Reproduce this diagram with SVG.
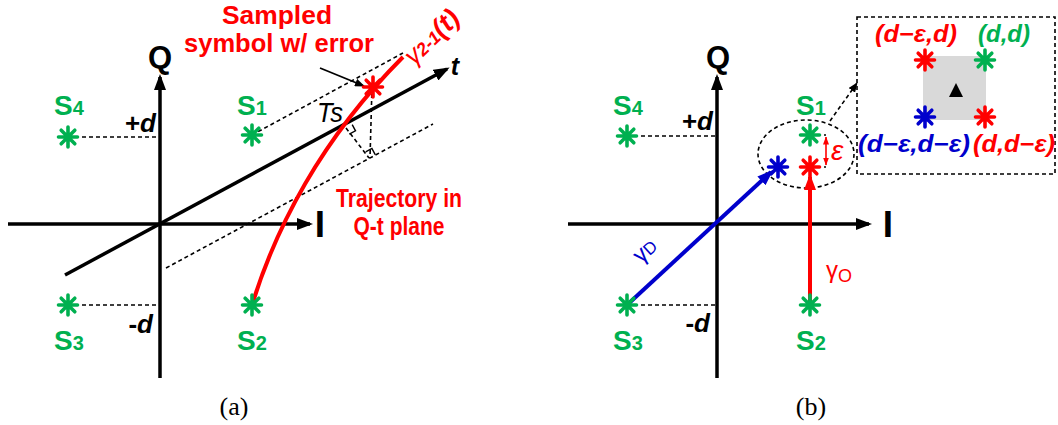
<svg xmlns="http://www.w3.org/2000/svg" width="1058" height="425" viewBox="0 0 1058 425">
<style>
.ax{stroke:#000;stroke-width:3.5;fill:none}
.dash{stroke:#000;stroke-width:1.6;stroke-dasharray:4 3;fill:none}
.lbl{font-family:"Liberation Sans",Arial,sans-serif;font-weight:bold}
.nrm{font-family:"Liberation Sans",Arial,sans-serif;font-weight:normal}
.g{fill:#00b050}.r{fill:#ff0000}.b{fill:#0000cc}.k{fill:#000}
.cap{font-family:"Liberation Serif","Times New Roman",serif;font-size:26px;fill:#000}
</style>
<defs>
<marker id="ak" viewBox="0 0 16 12" refX="13" refY="6" markerWidth="16" markerHeight="12" markerUnits="userSpaceOnUse" orient="auto"><path d="M0,0L16,6L0,12z" fill="#000"/></marker>
<marker id="ar" viewBox="0 0 16 12" refX="13" refY="6" markerWidth="16" markerHeight="12" markerUnits="userSpaceOnUse" orient="auto"><path d="M0,0L16,6L0,12z" fill="#ff0000"/></marker>
<marker id="ab" viewBox="0 0 16 12" refX="13" refY="6" markerWidth="16" markerHeight="12" markerUnits="userSpaceOnUse" orient="auto"><path d="M0,0L16,6L0,12z" fill="#0000cc"/></marker>
<marker id="aks" viewBox="0 0 10 8" refX="9" refY="4" markerWidth="10" markerHeight="8" markerUnits="userSpaceOnUse" orient="auto"><path d="M0,0L10,4L0,8z" fill="#000"/></marker>
<marker id="ars" viewBox="0 0 8 6" refX="7.5" refY="3" markerWidth="8" markerHeight="6" markerUnits="userSpaceOnUse" orient="auto-start-reverse"><path d="M0,0L8,3L0,6z" fill="#ff0000"/></marker>
<g id="star"><path d="M-9.5,0H9.5M0,-10V10M-6.8,-6.8L6.8,6.8M-6.8,6.8L6.8,-6.8" stroke="currentColor" stroke-width="3.6" stroke-linecap="round"/></g>
</defs>

<!-- ===== Panel (a) ===== -->
<g id="a-axes">
<line class="ax" x1="160" y1="378" x2="160" y2="77" marker-end="url(#ak)"/>
<line class="ax" x1="8" y1="224" x2="310" y2="224" marker-end="url(#ak)"/>
<line class="ax" x1="65" y1="275" x2="447" y2="69" marker-end="url(#ak)"/>
<text class="lbl k" x="160" y="68" font-size="31" text-anchor="middle">Q</text>
<text class="lbl k" x="320" y="237" font-size="37" text-anchor="middle">I</text>
<text class="lbl k" x="455" y="75" font-size="25" font-style="italic" text-anchor="middle">t</text>
</g>
<g id="a-connectors">
<line class="dash" x1="68" y1="137" x2="160" y2="137"/>
<line class="dash" x1="68" y1="305" x2="160" y2="305"/>
<line class="dash" x1="252" y1="135" x2="403" y2="53"/>
<line class="dash" x1="166" y1="268" x2="433" y2="124"/>
<line class="dash" x1="372" y1="87" x2="370" y2="158"/>
<line class="dash" x1="346" y1="128" x2="369" y2="158"/>
<path d="M352.2,124.7L355.5,130.8L349.3,134.2" stroke="#000" stroke-width="1.4" fill="none"/>
<path d="M375.2,154.7L371.9,148.5L365.7,151.8" stroke="#000" stroke-width="1.4" fill="none"/>
<line x1="320" y1="68" x2="364" y2="86" stroke="#000" stroke-width="1.8" marker-end="url(#aks)"/>
<path d="M252,305C275,230 320,140 403,57" stroke="#ff0000" stroke-width="4" fill="none"/>
</g>
<g id="a-S4"><use href="#star" x="68" y="137" color="#00b050"/><text class="lbl g" x="69" y="115" font-size="28" text-anchor="middle">S<tspan font-size="20">4</tspan></text></g>
<g id="a-S1"><use href="#star" x="252" y="135" color="#00b050"/><text class="lbl g" x="252" y="115" font-size="28" text-anchor="middle">S<tspan font-size="20">1</tspan></text></g>
<g id="a-S3"><use href="#star" x="68" y="305" color="#00b050"/><text class="lbl g" x="69" y="350" font-size="28" text-anchor="middle">S<tspan font-size="20">3</tspan></text></g>
<g id="a-S2"><use href="#star" x="252" y="305" color="#00b050"/><text class="lbl g" x="252" y="350" font-size="28" text-anchor="middle">S<tspan font-size="20">2</tspan></text></g>
<g id="a-sample"><use href="#star" x="373" y="87" color="#ff0000"/></g>
<g id="a-labels">
<text class="lbl k" x="156" y="132" font-size="26" text-anchor="end">+<tspan font-style="italic">d</tspan></text>
<text class="lbl k" x="153" y="333" font-size="26" text-anchor="end">-<tspan font-style="italic">d</tspan></text>
<text class="nrm k" x="317" y="122" font-size="28" font-style="italic" textLength="26" lengthAdjust="spacingAndGlyphs">Ts</text>
<text class="lbl r" x="277" y="24" font-size="25" text-anchor="middle" textLength="110" lengthAdjust="spacingAndGlyphs">Sampled</text>
<text class="lbl r" x="279" y="52" font-size="25" text-anchor="middle" textLength="190" lengthAdjust="spacingAndGlyphs">symbol w/ error</text>
<text class="lbl r" x="399" y="207" font-size="25" text-anchor="middle" textLength="126" lengthAdjust="spacingAndGlyphs">Trajectory in</text>
<text class="lbl r" x="399" y="235" font-size="25" text-anchor="middle" textLength="91" lengthAdjust="spacingAndGlyphs">Q-t plane</text>
<text class="nrm r" transform="translate(414,66) rotate(-44)" font-size="26" font-style="italic">γ<tspan class="lbl" font-size="18">2-1</tspan><tspan class="lbl" font-size="27">(t)</tspan></text>
<text class="cap" x="234" y="415" text-anchor="middle">(a)</text>
</g>

<!-- ===== Panel (b) ===== -->
<g id="b-axes">
<line class="ax" x1="717" y1="378" x2="717" y2="77" marker-end="url(#ak)"/>
<line class="ax" x1="568" y1="224" x2="869" y2="224" marker-end="url(#ak)"/>
<text class="lbl k" x="718" y="68" font-size="31" text-anchor="middle">Q</text>
<text class="lbl k" x="888" y="237" font-size="37" text-anchor="middle">I</text>
</g>
<g id="b-connectors">
<line class="dash" x1="627" y1="136" x2="717" y2="136"/>
<line class="dash" x1="627" y1="305" x2="717" y2="305"/>
<line class="dash" x1="810" y1="135" x2="826" y2="135"/>
<line class="dash" x1="810" y1="167" x2="826" y2="167"/>
<line x1="826" y1="137" x2="826" y2="165" stroke="#ff0000" stroke-width="1.6" marker-start="url(#ars)" marker-end="url(#ars)"/>
<ellipse class="dash" cx="806" cy="154" rx="48" ry="34"/>
<line class="dash" x1="830" y1="121" x2="857" y2="83" marker-end="url(#aks)"/>
<line x1="627" y1="305" x2="771" y2="172" stroke="#0000cc" stroke-width="4" marker-end="url(#ab)"/>
<line x1="810" y1="305" x2="810" y2="177" stroke="#ff0000" stroke-width="4" marker-end="url(#ar)"/>
</g>
<g id="b-S4"><use href="#star" x="627" y="136" color="#00b050"/><text class="lbl g" x="628" y="115" font-size="28" text-anchor="middle">S<tspan font-size="20">4</tspan></text></g>
<g id="b-S1"><use href="#star" x="810" y="135" color="#00b050"/><text class="lbl g" x="811" y="115" font-size="28" text-anchor="middle">S<tspan font-size="20">1</tspan></text></g>
<g id="b-S3"><use href="#star" x="627" y="305" color="#00b050"/><text class="lbl g" x="628" y="350" font-size="28" text-anchor="middle">S<tspan font-size="20">3</tspan></text></g>
<g id="b-S2"><use href="#star" x="810" y="305" color="#00b050"/><text class="lbl g" x="811" y="350" font-size="28" text-anchor="middle">S<tspan font-size="20">2</tspan></text></g>
<g id="b-red"><use href="#star" x="810" y="167" color="#ff0000"/></g>
<g id="b-blue"><use href="#star" x="778" y="167" color="#0000cc"/></g>
<g id="b-labels">
<text class="lbl k" x="713" y="130" font-size="26" text-anchor="end">+<tspan font-style="italic">d</tspan></text>
<text class="lbl k" x="710" y="332" font-size="26" text-anchor="end">-<tspan font-style="italic">d</tspan></text>
<text class="nrm r" x="831" y="160" font-size="28" font-style="italic">ε</text>
<text class="nrm b" transform="translate(641,264) rotate(-42)" font-size="23">γ<tspan font-size="17">D</tspan></text>
<text class="nrm r" x="826" y="278" font-size="24">γ<tspan font-size="18" dy="4">O</tspan></text>
<text class="cap" x="811" y="415" text-anchor="middle">(b)</text>
</g>
<g id="b-inset">
<rect class="dash" x="857" y="17" width="198" height="157"/>
<rect x="923" y="56" width="63" height="64" fill="#d9d9d9"/>
<polygon points="949,97 963,97 956,83" fill="#000"/>
<use href="#star" x="925" y="60" color="#ff0000"/>
<use href="#star" x="985" y="60" color="#00b050"/>
<use href="#star" x="925" y="117" color="#0000cc"/>
<use href="#star" x="985" y="117" color="#ff0000"/>
<text class="lbl r" x="875" y="42" font-size="24" font-style="italic" textLength="82" lengthAdjust="spacingAndGlyphs">(d−ε,d)</text>
<text class="lbl g" x="978" y="42" font-size="24" font-style="italic" textLength="52" lengthAdjust="spacingAndGlyphs">(d,d)</text>
<text class="lbl b" x="858" y="152" font-size="24" font-style="italic" textLength="112" lengthAdjust="spacingAndGlyphs">(d−ε,d−ε)</text>
<text class="lbl r" x="973" y="152" font-size="24" font-style="italic" textLength="82" lengthAdjust="spacingAndGlyphs">(d,d−ε)</text>
</g>
</svg>
